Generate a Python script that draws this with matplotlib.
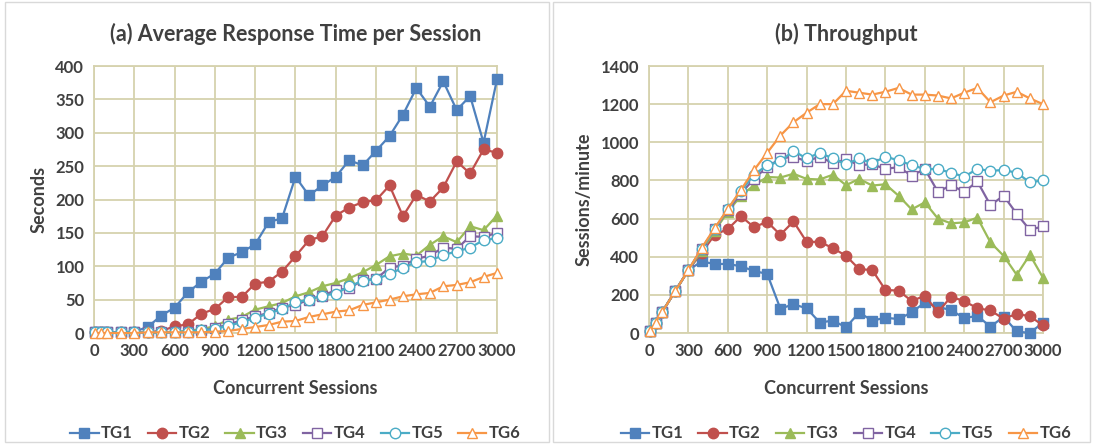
import numpy as np
import matplotlib.pyplot as plt
from matplotlib.patches import Rectangle

plt.rcParams['font.family'] = ['Lato', 'DejaVu Sans']
plt.rcParams['font.weight'] = 'bold'

sessions = [10, 50, 100] + list(range(200, 3001, 100))
groups = ['TG1', 'TG2', 'TG3', 'TG4', 'TG5', 'TG6']

# average response time per session (seconds)
rt_tg1 = [1, 1, 1, 1, 2, 9, 26, 38, 61, 77, 89, 113, 121, 133, 166, 172, 234, 206, 221, 234,
          259, 251, 273, 295, 327, 367, 339, 377, 334, 355, 285, 380]
rt_tg2 = [1, 1, 1, 1, 1, 1, 3, 10, 13, 29, 36, 54, 54, 74, 77, 92, 115, 139, 145, 176,
          188, 196, 199, 221, 175, 207, 197, 218, 257, 239, 275, 270]
rt_tg3 = [1, 1, 1, 1, 1, 1, 1, 2, 3, 6, 10, 20, 24, 35, 40, 45, 55, 61, 70, 75,
          82, 91, 102, 115, 119, 116, 132, 145, 136, 160, 154, 176]
rt_tg4 = [1, 1, 1, 1, 1, 1, 1, 1, 2, 4, 7, 13, 19, 25, 30, 38, 42, 50, 56, 64,
          67, 79, 81, 98, 101, 111, 116, 128, 126, 145, 144, 150]
rt_tg5 = [1, 1, 1, 1, 1, 1, 1, 1, 2, 4, 6, 11, 16, 23, 29, 36, 46, 50, 56, 59,
          70, 78, 81, 88, 98, 106, 108, 117, 122, 128, 139, 142]
rt_tg6 = [0, 0, 0, 0, 0, 1, 1, 1, 1, 1, 2, 3, 6, 9, 12, 17, 18, 24, 28, 32,
          34, 42, 46, 50, 55, 58, 60, 70, 72, 76, 84, 90]

# throughput (sessions/minute)
tp_tg1 = [10, 55, 110, 220, 330, 375, 362, 362, 350, 325, 310, 128, 150, 130, 55, 65, 30, 107, 65, 80,
          73, 108, 160, 137, 120, 78, 90, 33, 85, 8, 0, 55]
tp_tg2 = [10, 55, 110, 220, 330, 420, 515, 545, 612, 555, 583, 515, 585, 478, 478, 445, 405, 335, 330, 226,
          222, 168, 195, 110, 190, 167, 130, 118, 75, 100, 88, 40]
tp_tg3 = [10, 55, 110, 220, 330, 430, 535, 635, 720, 775, 818, 815, 835, 808, 805, 830, 775, 808, 773, 780,
          720, 648, 685, 600, 575, 580, 605, 475, 405, 305, 410, 290]
tp_tg4 = [10, 55, 110, 220, 330, 440, 545, 645, 730, 810, 870, 915, 925, 900, 925, 890, 910, 880, 885, 860,
          870, 825, 860, 740, 775, 740, 795, 670, 720, 625, 540, 560]
tp_tg5 = [10, 55, 110, 220, 330, 440, 545, 650, 745, 830, 880, 900, 955, 915, 945, 915, 885, 915, 890, 925,
          905, 880, 860, 860, 840, 820, 860, 850, 855, 840, 790, 800]
tp_tg6 = [10, 55, 110, 220, 330, 445, 550, 650, 750, 855, 945, 1035, 1105, 1155, 1200, 1200, 1270, 1260, 1250, 1265,
          1285, 1250, 1250, 1245, 1230, 1260, 1285, 1210, 1245, 1265, 1230, 1200]

colors = ['#4F81BD', '#C0504D', '#9BBB59', '#8064A2', '#4BACC6', '#F79646']
markers = ['s', 'o', '^', 's', 'o', '^']
filled = [True, True, True, False, False, False]
text_col = '#404040'
grid_col = '#D6D2AE'

fig = plt.figure(figsize=(10.94, 4.48), dpi=100)

# chart borders
for x0, w in [(5, 544), (553, 537)]:
    fig.patches.append(Rectangle((x0 / 1094, 6 / 448), w / 1094, 440 / 448, transform=fig.transFigure,
                                 fill=False, edgecolor='#D9D9D9', linewidth=1))

ax1 = fig.add_axes([94 / 1094, 1 - 333 / 448, 403 / 1094, 267 / 448])
ax2 = fig.add_axes([649 / 1094, 1 - 333 / 448, 394 / 1094, 267 / 448])

panels = [
    (ax1, [rt_tg1, rt_tg2, rt_tg3, rt_tg4, rt_tg5, rt_tg6], '(a) Average Response Time per Session',
     'Seconds', 400, 50),
    (ax2, [tp_tg1, tp_tg2, tp_tg3, tp_tg4, tp_tg5, tp_tg6], '(b) Throughput',
     'Sessions/minute', 1400, 200),
]

for ax, series, title, ylabel, ymax, ystep in panels:
    for name, vals, c, m, f in zip(groups, series, colors, markers, filled):
        ms = 7 if m == 's' else 7.5
        ax.plot(sessions, vals, color=c, marker=m, markersize=ms, linewidth=1.6,
                markerfacecolor=c if f else 'white', markeredgecolor=c,
                markeredgewidth=1.0, label=name, clip_on=False, zorder=3)
    ax.set_xlim(0, 3000)
    ax.set_ylim(0, ymax)
    ax.set_xticks(range(0, 3001, 300))
    ax.set_yticks(range(0, ymax + 1, ystep))
    ax.grid(True, color=grid_col, linewidth=1.3)
    ax.set_axisbelow(True)
    for s in ax.spines.values():
        s.set_color(grid_col)
        s.set_linewidth(1.3)
    ax.tick_params(length=0, labelsize=12, colors=text_col, pad=7)
    for lab in ax.get_xticklabels() + ax.get_yticklabels():
        lab.set_fontweight('bold')
    ax.set_title(title, fontsize=15.5, fontweight='bold', color=text_col, pad=18)
    ax.set_xlabel('Concurrent Sessions', fontsize=13, fontweight='bold', color=text_col, labelpad=15)
    ax.set_ylabel(ylabel, fontsize=13, fontweight='bold', color=text_col, labelpad=6)
    leg = ax.legend(loc='upper center', bbox_to_anchor=(0.5, -0.29), ncol=6, frameon=False,
                    fontsize=12, handlelength=1.7, handletextpad=0.15, columnspacing=0.9)
    for t in leg.get_texts():
        t.set_color(text_col)
        t.set_fontweight('bold')

fig.savefig('out.png', dpi=100)
